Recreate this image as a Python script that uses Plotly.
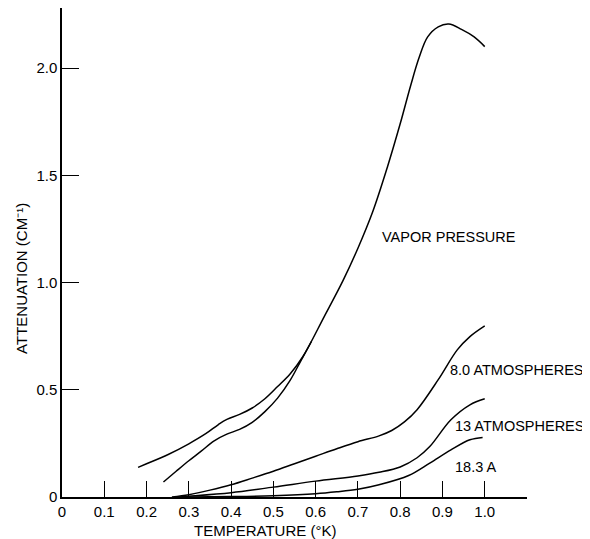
import plotly.graph_objects as go

# Vapor pressure (upper branch, full curve)
vp_x = [0.18, 0.2, 0.25, 0.3, 0.34, 0.37, 0.39, 0.42, 0.45, 0.48, 0.51, 0.54, 0.57, 0.62, 0.665,
        0.7, 0.735, 0.77, 0.8, 0.825, 0.845, 0.865, 0.89, 0.915, 0.945, 0.975, 1.0]
vp_y = [0.138, 0.155, 0.197, 0.248, 0.295, 0.338, 0.362, 0.385, 0.415, 0.458, 0.515, 0.575, 0.655, 0.84, 1.01,
        1.16, 1.33, 1.54, 1.74, 1.92, 2.05, 2.145, 2.192, 2.205, 2.18, 2.145, 2.10]

# Vapor pressure (lower branch, second run)
vp2_x = [0.24, 0.27, 0.3, 0.33, 0.36, 0.39, 0.42, 0.45, 0.48, 0.51, 0.54, 0.565, 0.59]
vp2_y = [0.07, 0.12, 0.169, 0.215, 0.262, 0.293, 0.315, 0.348, 0.398, 0.461, 0.545, 0.635, 0.725]

# 8.0 atmospheres
a8_x = [0.26, 0.3, 0.35, 0.4, 0.45, 0.5, 0.55, 0.6, 0.65, 0.7, 0.75, 0.78, 0.81, 0.84, 0.89, 0.935, 0.965, 1.0]
a8_y = [0.0, 0.011, 0.032, 0.057, 0.088, 0.12, 0.155, 0.19, 0.225, 0.258, 0.285, 0.31, 0.35, 0.407, 0.547, 0.686, 0.748, 0.798]

# 13 atmospheres
a13_x = [0.27, 0.3, 0.4, 0.5, 0.6, 0.7, 0.75, 0.8, 0.84, 0.87, 0.92, 0.965, 1.0]
a13_y = [0.0, 0.004, 0.02, 0.046, 0.074, 0.098, 0.115, 0.14, 0.183, 0.235, 0.36, 0.43, 0.458]

# 18.3 atmospheres
a18_x = [0.3, 0.4, 0.5, 0.6, 0.65, 0.7, 0.75, 0.82, 0.87, 0.92, 0.965, 0.995]
a18_y = [0.0, 0.002, 0.006, 0.015, 0.024, 0.036, 0.057, 0.1, 0.158, 0.22, 0.267, 0.278]

x_ticks = [0, 0.1, 0.2, 0.3, 0.4, 0.5, 0.6, 0.7, 0.8, 0.9, 1.0]
x_tick_text = ["0", "0.1", "0.2", "0.3", "0.4", "0.5", "0.6", "0.7", "0.8", "0.9", "1.0"]
y_ticks = [0, 0.5, 1.0, 1.5, 2.0]
y_tick_text = ["0", "0.5", "1.0", "1.5", "2.0"]

labels = ["VAPOR PRESSURE", "8.0 ATMOSPHERES", "13 ATMOSPHERES", "18.3 A"]
label_x = [0.753, 0.914, 0.926, 0.924]
label_y = [1.213, 0.593, 0.332, 0.138]

x_title = "TEMPERATURE (°K)"
y_title = "ATTENUATION (CM⁻¹)"

FONT = "Liberation Sans"
line = dict(color="black", width=1.5, shape="spline", smoothing=1.0)

fig = go.Figure()
for xs, ys in [(vp_x, vp_y), (vp2_x, vp2_y), (a8_x, a8_y), (a13_x, a13_y), (a18_x, a18_y)]:
    fig.add_trace(go.Scatter(x=xs, y=ys, mode="lines", line=line, showlegend=False, hoverinfo="skip"))

for t, lx, ly in zip(labels, label_x, label_y):
    fig.add_annotation(x=lx, y=ly, xref="x", yref="y", text=t, showarrow=False,
                       xanchor="left", yanchor="middle",
                       font=dict(family=FONT, size=14.5, color="black"))

fig.add_annotation(x=0.4366, y=-0.0675, xref="paper", yref="paper", text=x_title, showarrow=False,
                   xanchor="center", yanchor="middle", font=dict(family=FONT, size=15, color="black"))
fig.add_annotation(x=-0.086, y=0.446, xref="paper", yref="paper", text=y_title, showarrow=False,
                   textangle=-90, xanchor="center", yanchor="middle",
                   font=dict(family=FONT, size=15, color="black"))

# page has an 8px body margin, so the figure is sized/offset to compensate
fig.update_layout(
    width=582, height=531,
    margin=dict(l=54, r=63, t=0, b=42, autoexpand=False),
    paper_bgcolor="white", plot_bgcolor="white",
    font=dict(family=FONT, size=15, color="black"),
    showlegend=False,
)
fig.update_xaxes(
    range=[0, 1.1], tickvals=x_ticks, ticktext=x_tick_text, automargin=False,
    ticks="inside", ticklen=16, tickwidth=1.2, tickcolor="black",
    showline=True, linecolor="black", linewidth=1.5, showgrid=False, zeroline=False,
)
fig.update_yaxes(
    range=[0, 2.28], tickvals=y_ticks, ticktext=y_tick_text, automargin=False,
    ticks="inside", ticklen=17, tickwidth=1.2, tickcolor="black",
    showline=True, linecolor="black", linewidth=1.5, showgrid=False, zeroline=False,
)

fig.write_html("out.html")
